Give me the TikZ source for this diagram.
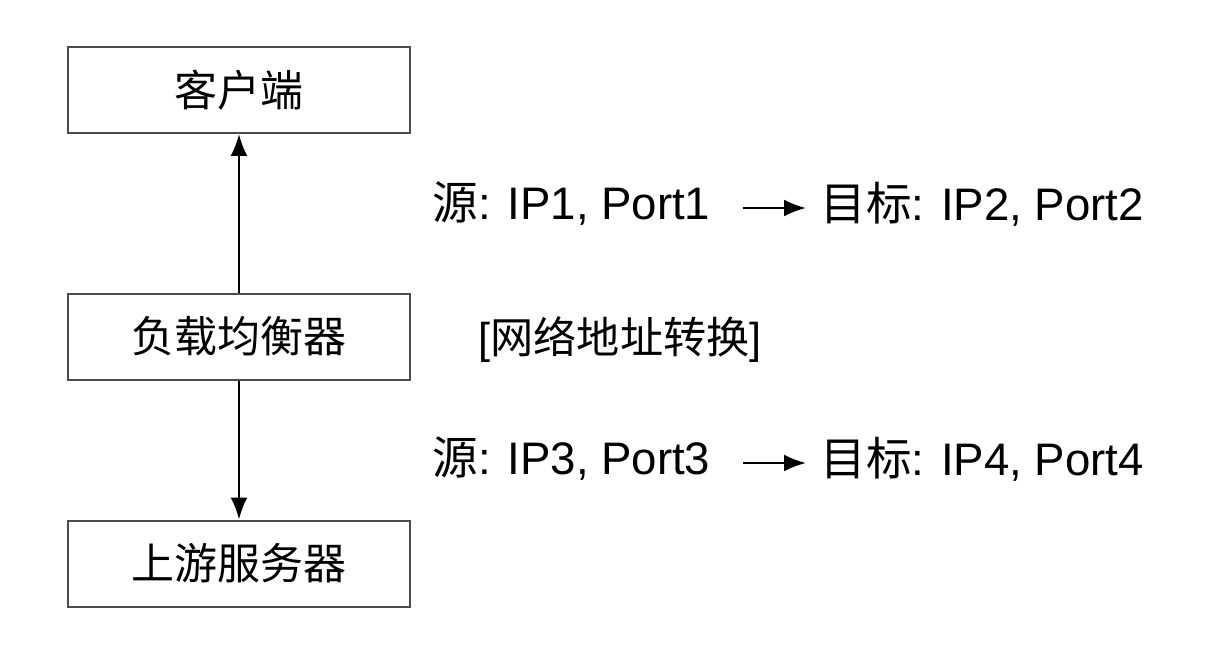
\documentclass[tikz,border=0pt]{standalone}
\usepackage{fontspec}
\setmainfont{Liberation Sans}
\newfontfamily\cjk{Noto Sans CJK SC}
\usetikzlibrary{arrows.meta}
\begin{document}
\begin{tikzpicture}[x=0.5pt,y=-0.5pt,
  box/.style={draw=black!70,line width=1pt,minimum width=171pt,minimum height=43pt,inner sep=0pt,font=\cjk\fontsize{21.5}{24}\selectfont},
  lbl/.style={inner sep=0pt,font=\fontsize{22.8}{26}\selectfont},
  conn/.style={line width=1.2pt,-{Latex[length=11pt,width=8.5pt]}}]
\useasboundingbox (0,0) rectangle (1220,668);
% boxes
\node[box] (client) at (239,90) {客户端};
\node[box] (lb) at (239,336.5) {负载均衡器};
\node[box] (up) at (239,563.5) {上游服务器};
\draw[conn] (lb.north) -- (client.south);
\draw[conn] (lb.south) -- (up.north);
% address rows
\node[lbl,anchor=west] (s1) at (432,204) {{\cjk 源}: IP1, Port1};
\node[lbl,anchor=west] (d1) at (820,204) {{\cjk 目标}: IP2, Port2};
\node[lbl,anchor=west] (s2) at (432,459) {{\cjk 源}: IP3, Port3};
\node[lbl,anchor=west] (d2) at (820,459) {{\cjk 目标}: IP4, Port4};
\node[lbl,anchor=west,font=\fontsize{21.6}{26}\selectfont] (nat) at (478,340) {[{\cjk 网络地址转换}]};
\draw[conn] ([xshift=16pt,yshift=-2pt]s1.east) -- ([xshift=-7pt,yshift=-2pt]d1.west);
\draw[conn] ([xshift=16pt,yshift=-2pt]s2.east) -- ([xshift=-7pt,yshift=-2pt]d2.west);
\end{tikzpicture}
\end{document}
